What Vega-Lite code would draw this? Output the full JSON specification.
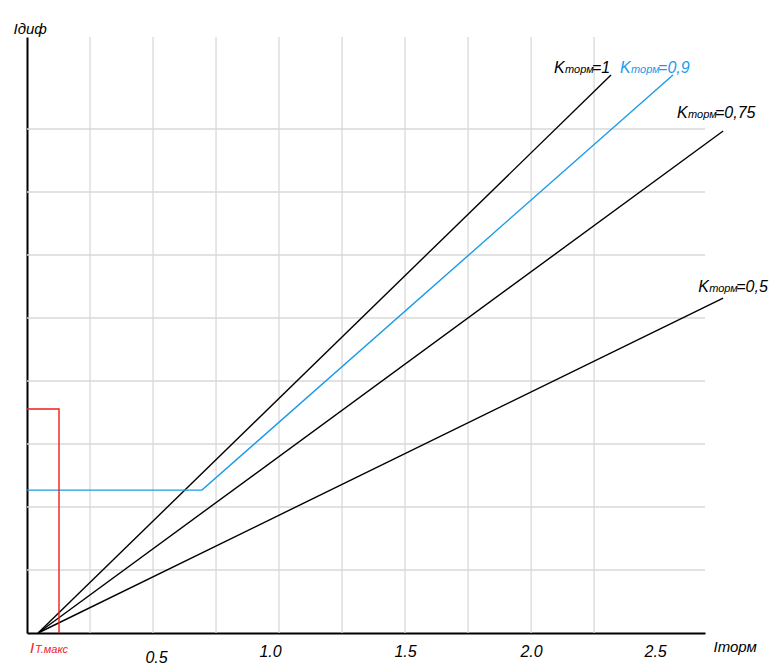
{
  "$schema": "https://vega.github.io/schema/vega-lite/v6.json",
  "width": 678,
  "height": 596,
  "autosize": {"type": "none"},
  "padding": {"left": 27, "top": 37, "right": 67, "bottom": 33},
  "background": "white",
  "config": {"view": {"stroke": null}, "font": "Liberation Sans"},
  "datasets": {
    "gridx": [{"gx": 0.25}, {"gx": 0.5}, {"gx": 0.75}, {"gx": 1.0}, {"gx": 1.25}, {"gx": 1.5}, {"gx": 1.75}, {"gx": 2.0}, {"gx": 2.25}],
    "gridy": [{"gy": 0.25}, {"gy": 0.5}, {"gy": 0.75}, {"gy": 1.0}, {"gy": 1.25}, {"gy": 1.5}, {"gy": 1.75}, {"gy": 2.0}],
    "lines": [
      {"s": "k1", "o": 1, "x": 0.044, "y": 0},
      {"s": "k1", "o": 2, "x": 2.317, "y": 2.214},
      {"s": "k09", "o": 1, "x": 0, "y": 0.567},
      {"s": "k09", "o": 2, "x": 0.694, "y": 0.567},
      {"s": "k09", "o": 3, "x": 2.563, "y": 2.214},
      {"s": "k075", "o": 1, "x": 0.044, "y": 0},
      {"s": "k075", "o": 2, "x": 2.762, "y": 1.992},
      {"s": "k05", "o": 1, "x": 0.044, "y": 0},
      {"s": "k05", "o": 2, "x": 2.762, "y": 1.329},
      {"s": "imax", "o": 1, "x": 0, "y": 0.889},
      {"s": "imax", "o": 2, "x": 0.127, "y": 0.889},
      {"s": "imax", "o": 3, "x": 0.127, "y": 0}
    ],
    "labels": [
      {"s": "k1", "x": 2.091, "y": 2.222, "v": "=1"},
      {"s": "k09", "x": 2.353, "y": 2.222, "v": "=0,9"},
      {"s": "k075", "x": 2.579, "y": 2.044, "v": "=0,75"},
      {"s": "k05", "x": 2.663, "y": 1.353, "v": "=0,5"}
    ],
    "imaxlabel": [{"s": "imax", "x": 0.012, "y": -0.079}]
  },
  "layer": [
    {
      "data": {"name": "gridx"},
      "mark": {"type": "rule", "color": "#d9d9d9", "strokeWidth": 1.3},
      "encoding": {
        "x": {"field": "gx", "type": "quantitative", "scale": {"domain": [0, 2.69], "nice": false, "zero": false}}
      }
    },
    {
      "data": {"name": "gridy"},
      "mark": {"type": "rule", "color": "#d9d9d9", "strokeWidth": 1.3},
      "encoding": {
        "y": {"field": "gy", "type": "quantitative", "scale": {"domain": [0, 2.365], "nice": false, "zero": false}}
      }
    },
    {
      "data": {"name": "lines"},
      "mark": {"type": "line", "strokeWidth": 1.4, "clip": false},
      "encoding": {
        "x": {
          "field": "x", "type": "quantitative",
          "scale": {"domain": [0, 2.69], "nice": false, "zero": false},
          "axis": {
            "values": [0.5, 1, 1.5, 2, 2.5], "format": ".1f", "grid": false, "ticks": false,
            "domainColor": "#000000", "domainWidth": 2,
            "labelFont": "Liberation Sans", "labelFontStyle": "italic", "labelFontSize": 16, "labelColor": "#000000",
            "labelPadding": {"condition": {"test": "datum.value == 0.5", "value": 16}, "value": 10},
            "labelOffset": {"condition": [{"test": "datum.value == 1", "value": -9}, {"test": "datum.value == 0.5", "value": 3}, {"test": "datum.value == 2.5", "value": -2}], "value": 0},
            "labelFlush": false, "labelOverlap": false,
            "title": "Iторм", "titleX": 686, "titleY": 18, "titleAlign": "left", "titleBaseline": "alphabetic",
            "titleFont": "Liberation Sans", "titleFontSize": 15, "titleFontStyle": "italic", "titleFontWeight": "normal", "titleColor": "#000000"
          }
        },
        "y": {
          "field": "y", "type": "quantitative",
          "scale": {"domain": [0, 2.365], "nice": false, "zero": false},
          "axis": {
            "labels": false, "ticks": false, "grid": false,
            "domainColor": "#000000", "domainWidth": 2,
            "title": "Iдиф", "titleAngle": 0, "titleX": -14, "titleY": -4, "titleAlign": "left", "titleBaseline": "alphabetic",
            "titleFont": "Liberation Sans", "titleFontSize": 15, "titleFontStyle": "italic", "titleFontWeight": "normal", "titleColor": "#000000"
          }
        },
        "order": {"field": "o", "type": "quantitative"},
        "detail": {"field": "s"},
        "color": {
          "field": "s", "type": "nominal", "legend": null,
          "scale": {"domain": ["k1", "k09", "k075", "k05", "imax"], "range": ["#000000", "#1a9be8", "#000000", "#000000", "#f01c1c"]}
        }
      }
    },
    {
      "data": {"name": "labels"},
      "mark": {"type": "text", "text": "K", "align": "left", "baseline": "alphabetic", "fontSize": 16, "fontStyle": "italic", "font": "Liberation Sans"},
      "encoding": {
        "x": {"field": "x", "type": "quantitative"},
        "y": {"field": "y", "type": "quantitative"},
        "color": {"field": "s", "type": "nominal", "legend": null}
      }
    },
    {
      "data": {"name": "labels"},
      "mark": {"type": "text", "text": "торм", "align": "left", "baseline": "alphabetic", "dx": 11, "fontSize": 11, "letterSpacing": -0.6, "fontStyle": "italic", "font": "Liberation Sans"},
      "encoding": {
        "x": {"field": "x", "type": "quantitative"},
        "y": {"field": "y", "type": "quantitative"},
        "color": {"field": "s", "type": "nominal", "legend": null}
      }
    },
    {
      "data": {"name": "labels"},
      "mark": {"type": "text", "align": "left", "baseline": "alphabetic", "dx": 38, "fontSize": 16, "fontStyle": "italic", "font": "Liberation Sans"},
      "encoding": {
        "x": {"field": "x", "type": "quantitative"},
        "y": {"field": "y", "type": "quantitative"},
        "text": {"field": "v"},
        "color": {"field": "s", "type": "nominal", "legend": null}
      }
    },
    {
      "data": {"name": "imaxlabel"},
      "mark": {"type": "text", "text": "I", "align": "left", "baseline": "alphabetic", "fontSize": 15, "fontStyle": "italic", "font": "Liberation Sans"},
      "encoding": {
        "x": {"field": "x", "type": "quantitative"},
        "y": {"field": "y", "type": "quantitative"},
        "color": {"field": "s", "type": "nominal", "legend": null}
      }
    },
    {
      "data": {"name": "imaxlabel"},
      "mark": {"type": "text", "text": "Т.макс", "align": "left", "baseline": "alphabetic", "dx": 5, "fontSize": 11, "fontStyle": "italic", "font": "Liberation Sans"},
      "encoding": {
        "x": {"field": "x", "type": "quantitative"},
        "y": {"field": "y", "type": "quantitative"},
        "color": {"field": "s", "type": "nominal", "legend": null}
      }
    }
  ]
}
